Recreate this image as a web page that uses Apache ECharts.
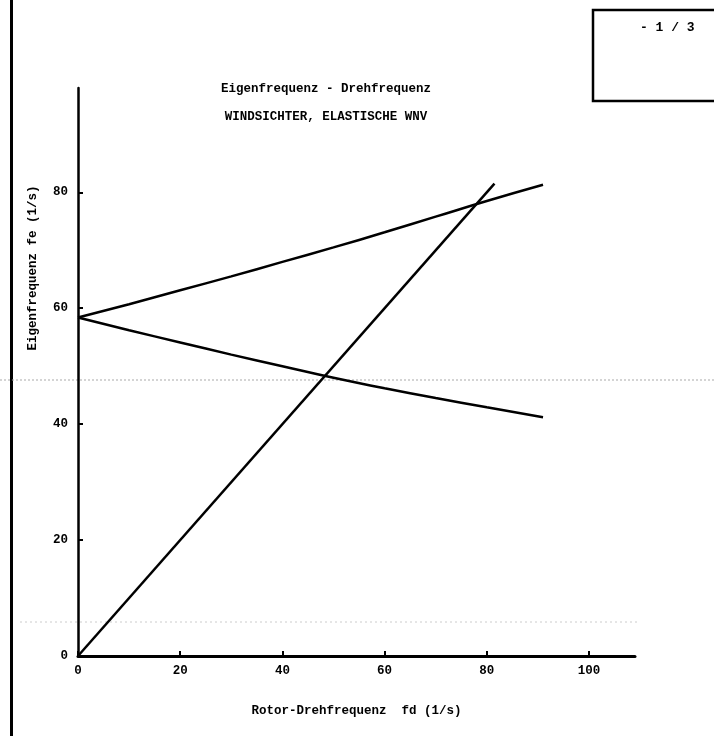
<!DOCTYPE html>
<html>
<head>
<meta charset="utf-8">
<script src="https://cdn.jsdelivr.net/npm/echarts@6/dist/echarts.min.js"></script>
<style>
  html, body { margin: 0; padding: 0; background: #fff; }
  #chart-container { width: 714px; height: 736px; }
</style>
</head>
<body>
<div id="chart-container"></div>
<script>
// rotor speed samples and eigenfrequencies
var fd = [0, 10, 20, 30, 40, 50, 60, 70, 80, 91];
var feUpper = [58.4, 60.7, 63.1, 65.5, 68.0, 70.5, 73.1, 75.8, 78.5, 81.3];
var feLower = [58.4, 56.2, 54.1, 52.0, 50.0, 48.0, 46.2, 44.5, 42.9, 41.2];
var resonance = [[0, 0], [81.5, 81.5]];
var xTicks = [0, 20, 40, 60, 80, 100];
var yTicks = [0, 20, 40, 60, 80];

var dom = document.getElementById('chart-container');
var myChart = echarts.init(dom);
var option;

function pairs(xs, ys) {
  return xs.map(function (x, i) { return [x, ys[i]]; });
}

var font = 'Liberation Mono';
var lineStyle = { color: '#000', width: 2.5 };

option = {
  backgroundColor: '#fff',
  animation: false,
  grid: { left: 78, top: 88, right: 79, bottom: 80 },
  title: [
    {
      text: 'Eigenfrequenz - Drehfrequenz',
      left: 321, top: 77, textAlign: 'center',
      textStyle: { fontFamily: font, fontWeight: 'bold', fontSize: 12.5, color: '#000' }
    },
    {
      text: 'WINDSICHTER, ELASTISCHE WNV',
      left: 321, top: 105, textAlign: 'center',
      textStyle: { fontFamily: font, fontWeight: 'bold', fontSize: 12.5, color: '#000' }
    }
  ],
  xAxis: {
    type: 'value',
    min: 0,
    max: 109,
    interval: 20,
    name: 'Rotor-Drehfrequenz  fd (1/s)',
    nameLocation: 'middle',
    nameGap: 48,
    nameTextStyle: { fontFamily: font, fontWeight: 'bold', fontSize: 12.5, color: '#000' },
    splitLine: { show: false },
    axisLine: { lineStyle: { color: '#000', width: 3 } },
    axisTick: { inside: true, length: 5, lineStyle: { color: '#000', width: 2 },
      customValues: xTicks },
    axisLabel: { margin: 8, customValues: xTicks,
      fontFamily: font, fontWeight: 'bold', fontSize: 12.5, color: '#000' }
  },
  yAxis: {
    type: 'value',
    min: 0,
    max: 98,
    interval: 20,
    splitLine: { show: false },
    axisLine: { lineStyle: { color: '#000', width: 2.5 } },
    axisTick: { inside: true, length: 5, lineStyle: { color: '#000', width: 2 },
      customValues: yTicks },
    axisLabel: { margin: 10, customValues: yTicks,
      fontFamily: font, fontWeight: 'bold', fontSize: 12.5, color: '#000' }
  },
  series: [
    { type: 'line', data: pairs(fd, feUpper), smooth: true, symbol: 'none', lineStyle: lineStyle },
    { type: 'line', data: pairs(fd, feLower), smooth: true, symbol: 'none', lineStyle: lineStyle },
    { type: 'line', data: resonance, symbol: 'none', lineStyle: lineStyle }
  ],
  graphic: [
    // y axis name, placed as on the scan
    {
      type: 'text', x: 33, y: 268, rotation: Math.PI / 2,
      style: { text: 'Eigenfrequenz fe (1/s)', fontFamily: font, fontWeight: 'bold',
        fontSize: 12.5, fill: '#000', align: 'center', verticalAlign: 'middle' }
    },
    // left page edge
    { type: 'rect', shape: { x: 10, y: 0, width: 3, height: 736 }, style: { fill: '#000' } },
    // page number box, top right
    {
      type: 'polyline',
      shape: { points: [[714, 10], [593, 10], [593, 101], [714, 101]] },
      style: { stroke: '#000', lineWidth: 2.5, fill: null }
    },
    {
      type: 'text', x: 640, y: 21,
      style: { text: '- 1 / 3', fontFamily: font, fontWeight: 'bold', fontSize: 13, fill: '#000' }
    },
    // faint scanner lines
    { type: 'line', shape: { x1: 0, y1: 380, x2: 714, y2: 380 },
      style: { stroke: '#aaa', lineWidth: 1, lineDash: [2, 2] } },
    { type: 'line', shape: { x1: 20, y1: 622, x2: 640, y2: 622 },
      style: { stroke: '#ccc', lineWidth: 1, lineDash: [2, 3] } }
  ]
};

if (option && typeof option === 'object') {
  myChart.setOption(option);
}

window.addEventListener('resize', myChart.resize);
</script>
</body>
</html>
